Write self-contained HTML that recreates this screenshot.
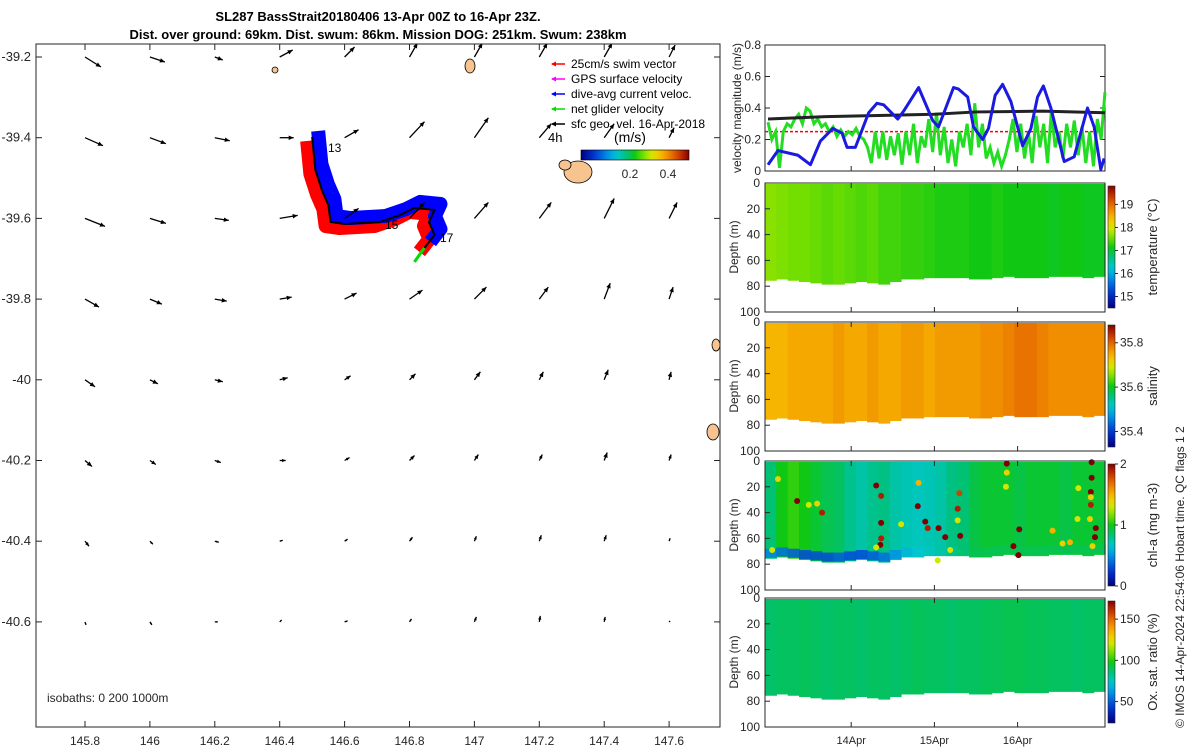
<!DOCTYPE html>
<html><head><meta charset="utf-8"><style>
body{margin:0;background:#fff;font-family:"Liberation Sans",sans-serif}
svg text{font-family:"Liberation Sans","DejaVu Sans",sans-serif;fill:#262626}
</style></head><body>
<svg id="fig" width="1200" height="750" viewBox="0 0 1200 750" xmlns="http://www.w3.org/2000/svg">
<rect width="1200" height="750" fill="#fff"/>
<text x="378" y="21" text-anchor="middle" font-size="13" font-weight="bold" style="fill:#000">SL287 BassStrait20180406 13-Apr 00Z to 16-Apr 23Z.</text>
<text x="378" y="39" text-anchor="middle" font-size="13" font-weight="bold" style="fill:#000">Dist. over ground: 69km. Dist. swum: 86km. Mission DOG: 251km. Swum: 238km</text>
<g id="map"></g>
<g id="vel"></g>
<g id="sec"></g>
<text transform="translate(1184,728) rotate(-90)" font-size="12">© IMOS 14-Apr-2024 22:54:06 Hobart time. QC flags 1  2</text>
</svg>
<script>
// ---------- data ----------
const lonTicks=[145.8,146,146.2,146.4,146.6,146.8,147,147.2,147.4,147.6];
const latTicks=[-39.2,-39.4,-39.6,-39.8,-40,-40.2,-40.4,-40.6];
const latTickLabels=["-39.2","-39.4","-39.6","-39.8","-40","-40.2","-40.4","-40.6"];
// surface geostrophic velocity (cm/s) east / north
const geoU=[[32,30,16,26,20,16,16,16,16,12],[36,32,30,28,28,30,28,24,20,10],[40,32,28,36,28,30,28,24,20,16],[28,24,24,24,24,26,24,18,12,8],[20,16,16,16,12,12,12,8,8,4],[14,12,12,12,10,10,8,6,6,4],[8,6,8,6,6,6,4,4,4,2],[2,4,6,4,6,4,4,2,2,2]];
const geoV=[[-20,-10,-6,14,20,28,28,28,28,24],[-16,-12,-6,0,16,32,40,28,28,20],[-16,-10,-4,6,20,32,32,32,40,32],[-16,-10,-4,4,12,18,24,24,32,24],[-14,-8,-4,4,8,12,16,16,20,16],[-12,-8,-4,0,6,10,12,12,16,12],[-10,-6,-2,2,4,8,10,12,12,6],[-6,-6,0,4,2,6,10,12,10,2]];
const trackLon=[146.50,146.51,146.53,146.55,146.557,146.60,146.708,146.77,146.815,146.877,146.86,146.877,146.846];
const trackLat=[-39.398,-39.48,-39.53,-39.567,-39.609,-39.614,-39.609,-39.592,-39.574,-39.579,-39.609,-39.641,-39.673];
const velTicks=[0,0.2,0.4,0.6,0.8];
const blueT=[0,0.12,0.36,0.51,0.63,0.78,0.89,0.95,1.05,1.21,1.31,1.39,1.56,1.63,1.81,1.98,2.05,2.23,2.29,2.40,2.47,2.58,2.65,2.73,2.82,2.92,3.06,3.16,3.24,3.31,3.40,3.56,3.68,3.84,3.92,4.00,4.04];
const blueV=[0.04,0.13,0.10,0.04,0.19,0.27,0.24,0.15,0.15,0.37,0.43,0.42,0.33,0.38,0.53,0.32,0.28,0.53,0.52,0.47,0.28,0.20,0.27,0.48,0.55,0.44,0.16,0.27,0.47,0.54,0.40,0.06,0.09,0.40,0.28,0.01,0.08];
const greenV=[0.31,0.2,0.25,0.02,0.25,0.3,0.28,0.33,0.36,0.3,0.4,0.38,0.3,0.33,0.28,0.3,0.25,0.28,0.22,0.26,0.22,0.25,0.23,0.27,0.22,0.2,0.15,0.05,0.25,0.08,0.25,0.07,0.22,0.1,0.24,0.04,0.25,0.1,0.3,0.05,0.22,0.15,0.33,0.12,0.37,0.1,0.28,0.05,0.2,0.03,0.25,0.15,0.3,0.1,0.43,0.15,0.3,0.08,0.15,0.05,0.12,0.03,0.1,0.2,0.33,0.12,0.3,0.08,0.25,0.05,0.35,0.15,0.3,0.05,0.38,0.15,0.25,0.08,0.3,0.15,0.32,0.1,0.28,0.05,0.25,0.03,0.33,0.2,0.5];
const blackT=[0,0.7,2.0,2.5,3.3,4.05];
const blackV=[0.33,0.345,0.36,0.375,0.38,0.37];
const swimV=0.25;
const dayTicks=["14Apr","15Apr","16Apr"];
const temps=[17.65,17.6,17.55,17.55,17.5,17.45,17.5,17.45,17.4,17.45,17.35,17.35,17.3,17.3,17.25,17.2,17.2,17.2,17.15,17.15,17.2,17.15,17.15,17.15,17.15,17.1,17.15,17.15,17.1,17.1];
const sals=[35.74,35.74,35.75,35.75,35.75,35.75,35.76,35.75,35.75,35.76,35.75,35.75,35.76,35.76,35.75,35.76,35.76,35.76,35.76,35.77,35.77,35.78,35.79,35.79,35.78,35.77,35.77,35.77,35.77,35.77];
const chls=[0.85,1.0,1.05,1.0,0.95,0.9,0.88,0.8,0.75,0.8,0.82,0.75,0.72,0.7,0.72,0.75,0.82,0.85,0.92,0.95,0.95,0.95,0.92,0.95,0.95,0.95,0.92,0.95,0.95,0.95];
const chlBottom=[0.45,0.4,0.35,0.3,0.3,0.3,0.35,0.3,0.3,0.35,0.4,0.5,0.6,0.65,0.7,0.75,0.8,0.85,0.9,0.9,0.9,0.9,0.9,0.9,0.9,0.9,0.9,0.9,0.9,0.9];
const oxs=[88,89,89,90,89,88,89,89,88,89,89,88,89,90,89,89,88,89,89,90,90,91,91,90,90,89,89,88,89,89];
const bottomDepth=[75,74,75,76,77,78,78,77,76,77,78,76,74,74,73,73,73,73,74,74,73,72,73,73,73,72,72,72,73,72];
const dotT=[0.35,0.65,0.12,1.30,1.36,1.36,1.36,1.35,1.80,1.89,1.92,2.05,2.13,2.31,2.28,2.30,2.87,3.02,2.95,3.01,3.89,3.89,3.88,3.88,3.94,3.93,1.81,1.6,2.28,2.19,2.04,2.87,2.86,3.42,3.54,3.63,3.72,3.88,3.87,3.90,3.73,1.30,0.05,0.59,0.49];
const dotD=[31,40,14,19,27,48,60,65,35,47,52,52,59,58,37,25,2,53,66,73,1,13,24,34,52,59,17,49,46,69,77,9,20,54,64,63,45,28,45,66,21,67,69,33,34];
const dotV=[2,1.9,1.4,2,1.9,2,1.9,2,2,2,1.9,2,2,2,1.9,1.8,2,2,2,2,2,2,2,1.9,2,2,1.5,1.3,1.3,1.3,1.3,1.4,1.3,1.5,1.4,1.5,1.3,1.4,1.4,1.4,1.3,1.3,1.3,1.4,1.3];

// ---------- helpers ----------
const NS="http://www.w3.org/2000/svg";
function mk(parent,tag,attrs,txt){const e=document.createElementNS(NS,tag);for(const k in attrs)e.setAttribute(k,attrs[k]);if(txt!==undefined)e.textContent=txt;parent.appendChild(e);return e;}
function cl(x){return Math.max(0,Math.min(1,x));}
const CM=[[0,[0,0,128]],[0.12,[0,50,210]],[0.24,[0,140,230]],[0.33,[0,200,210]],[0.42,[0,192,120]],[0.5,[16,200,20]],[0.58,[120,224,0]],[0.66,[220,232,0]],[0.73,[248,192,0]],[0.83,[236,120,0]],[0.92,[200,50,0]],[1,[128,0,0]]];
function jet(f){f=cl(f);for(let i=1;i<CM.length;i++){if(f<=CM[i][0]){const a=CM[i-1],b=CM[i],t=(f-a[0])/(b[0]-a[0]);return `rgb(${a[1].map((c,k)=>Math.round(c+(b[1][k]-c)*t)).join(',')})`;}}return 'rgb(128,0,0)';}
const defs=mk(document.getElementById('fig'),'defs',{});
const jg=mk(defs,'linearGradient',{id:'jetV',x1:0,y1:1,x2:0,y2:0});
const jh=mk(defs,'linearGradient',{id:'jetH',x1:0,y1:0,x2:1,y2:0});
for(let i=0;i<=20;i++){mk(jg,'stop',{offset:i/20,'stop-color':jet(i/20)});mk(jh,'stop',{offset:i/20,'stop-color':jet(i/20)});}
mk(mk(defs,'clipPath',{id:'mapclip'}),'rect',{x:36,y:44,width:684,height:683});

// ---------- map ----------
const map=document.getElementById('map');
const X0=36,X1=720,Y0=44,Y1=727;
const lx=lon=>85+(lon-145.8)/0.2*64.9;
const ly=lat=>57+(-39.2-lat)/0.2*80.7;
mk(map,'rect',{x:X0,y:Y0,width:X1-X0,height:Y1-Y0,fill:'#fff'});
const mc=mk(map,'g',{'clip-path':'url(#mapclip)'});
[[470,66,5,7],[578,172,14,11],[565,165,6,5],[716,345,4,6],[713,432,6,8],[275,70,3,3]].forEach((p,i)=>{
  const e=mk(mc,'ellipse',{cx:p[0],cy:p[1],rx:p[2],ry:p[3],fill:'#f7c48f',stroke:'#000','stroke-width':0.8});
  
  
});
const tp=trackLon.map((l,i)=>[lx(l),ly(trackLat[i])]);
const pstr=(dx,dy)=>tp.map(p=>(p[0]+dx)+','+(p[1]+dy)).join(' ');
const red=mk(mc,'polyline',{points:pstr(-5,4),fill:'none',stroke:'#f00','stroke-width':14,'stroke-linejoin':'round'});


const blue=mk(mc,'polyline',{points:pstr(6,-6),fill:'none',stroke:'#00f','stroke-width':14,'stroke-linejoin':'round'});


const trk=mk(mc,'polyline',{points:pstr(0,0),fill:'none',stroke:'#000','stroke-width':2});


const last=tp[tp.length-1];
const ga=mk(mc,'line',{x1:last[0],y1:last[1],x2:last[0]-10,y2:last[1]+14,stroke:'#0d0','stroke-width':3});


[["13",328,152],["15",385,229],["17",440,242]].forEach(d=>{const t=mk(mc,'text',{x:d[1],y:d[2],'font-size':12,style:'fill:#000'},d[0]);});
const sc=0.5;
latTicks.forEach((lat,r)=>lonTicks.forEach((lon,c)=>{
  const x=lx(lon),y=ly(lat),dx=geoU[r][c]*sc,dy=-geoV[r][c]*sc;
  const L=Math.hypot(dx,dy)||1,ux=dx/L,uy=dy/L;
  const g=mk(mc,'g',{});
  
  
  mk(g,'line',{x1:x,y1:y,x2:x+dx,y2:y+dy,stroke:'#000','stroke-width':1.3});
  const hx=x+dx,hy=y+dy,h=Math.min(5,L*0.6);
  mk(g,'polygon',{points:`${hx},${hy} ${hx-ux*h-uy*h*0.45},${hy-uy*h+ux*h*0.45} ${hx-ux*h+uy*h*0.45},${hy-uy*h-ux*h*0.45}`,fill:'#000'});
}));
mk(map,'rect',{x:X0,y:Y0,width:X1-X0,height:Y1-Y0,fill:'none',stroke:'#262626','stroke-width':1});
lonTicks.forEach(l=>{const x=lx(l);mk(map,'line',{x1:x,y1:Y1,x2:x,y2:Y1-6,stroke:'#262626'});mk(map,'line',{x1:x,y1:Y0,x2:x,y2:Y0+6,stroke:'#262626'});
 const t=mk(map,'text',{x:x,y:745,'text-anchor':'middle','font-size':12},String(l));});
latTicks.forEach((l,i)=>{const y=ly(l);mk(map,'line',{x1:X0,y1:y,x2:X0+6,y2:y,stroke:'#262626'});mk(map,'line',{x1:X1,y1:y,x2:X1-6,y2:y,stroke:'#262626'});
 const t=mk(map,'text',{x:31,y:y+4,'text-anchor':'end','font-size':13},latTickLabels[i]);});
mk(map,'text',{x:47,y:702,'font-size':12,},'isobaths: 0   200  1000m');
const leg=mk(map,'g',{});


[["#f00","25cm/s swim vector"],["#f0f","GPS surface velocity"],["#00f","dive-avg current veloc."],["#0d0","net glider velocity"],["#000","sfc geo. vel. 16-Apr-2018"]].forEach((d,i)=>{
  const y=64+i*15;
  const g=mk(leg,'g',{});
  
  
  mk(g,'line',{x1:552,y1:y,x2:565,y2:y,stroke:d[0],'stroke-width':1.5});
  mk(g,'polygon',{points:`${551},${y} ${556},${y-2.5} ${556},${y+2.5}`,fill:d[0]});
  mk(g,'text',{x:571,y:y+4,'font-size':12,style:'fill:#000'},d[1]);
});
mk(map,'text',{x:548,y:142,'font-size':13,style:'fill:#000'},'4h');
mk(map,'text',{x:614,y:142,'font-size':14,style:'fill:#000'},'(m/s)');
const mcb=mk(map,'rect',{x:581,y:150,width:108,height:10,fill:'url(#jetH)',stroke:'#000','stroke-width':0.6});


mk(map,'text',{x:630,y:178,'font-size':12,'text-anchor':'middle'},'0.2');
mk(map,'text',{x:668,y:178,'font-size':12,'text-anchor':'middle'},'0.4');

// ---------- velocity panel ----------
const vel=document.getElementById('vel');
const TX0=768,DAYPX=83.2,PX0=765,PX1=1105;
const tx=t=>TX0+t*DAYPX;
const vy=v=>171-v/0.8*126;
mk(vel,'rect',{x:PX0,y:45,width:PX1-PX0,height:126,fill:'#fff',stroke:'#262626'});
velTicks.forEach(v=>{mk(vel,'line',{x1:PX0,y1:vy(v),x2:PX0+5,y2:vy(v),stroke:'#262626'});mk(vel,'line',{x1:PX1,y1:vy(v),x2:PX1-5,y2:vy(v),stroke:'#262626'});
 const t=mk(vel,'text',{x:761,y:vy(v)+4,'text-anchor':'end','font-size':12},String(v));});
mk(vel,'text',{transform:'translate(741,108) rotate(-90)','text-anchor':'middle','font-size':12,},'velocity magnitude (m/s)');
const rl=mk(vel,'line',{x1:PX0,y1:vy(swimV),x2:PX1,y2:vy(swimV),stroke:'#f00','stroke-width':1.5,'stroke-dasharray':'3,2'});


const gp=mk(vel,'polyline',{points:greenV.map((v,i)=>tx(i*4.05/(greenV.length-1))+','+vy(v)).join(' '),fill:'none',stroke:'#22dd22','stroke-width':3});


const kp=mk(vel,'polyline',{points:blackV.map((v,i)=>tx(blackT[i])+','+vy(v)).join(' '),fill:'none',stroke:'#222','stroke-width':3});


const bp=mk(vel,'polyline',{points:blueV.map((v,i)=>tx(blueT[i])+','+vy(v)).join(' '),fill:'none',stroke:'#1a1ae0','stroke-width':3,'stroke-linejoin':'round'});



// ---------- sections ----------
const sec=document.getElementById('sec');
const panels=[
 {name:'temperature',top:183,vals:temps,min:14.5,max:19.8,ticks:[15,16,17,18,19],title:'temperature (°C)'},
 {name:'salinity',top:322,vals:sals,min:35.33,max:35.88,ticks:[35.4,35.6,35.8],title:'salinity'},
 {name:'chlorophyll',top:461,vals:chls,min:0,max:2,ticks:[0,1,2],title:'chl-a (mg m-3)'},
 {name:'oxygen',top:598,vals:oxs,min:24,max:172,ticks:[50,100,150],title:'Ox. sat. ratio (%)'}];
const depthTicks=[0,20,40,60,80,100];
panels.forEach((p,pi)=>{
  const H=129,dy=d=>p.top+d/100*H;
  const g=mk(sec,'g',{});
  
  
  const n=p.vals.length,w=(PX1-PX0)/n;
  p.vals.forEach((v,i)=>{
    const c=mk(g,'rect',{x:PX0+i*w,y:dy(0)+1,width:w+0.6,height:dy(bottomDepth[i])-dy(0),fill:jet((v-p.min)/(p.max-p.min))});
    
    
  });
  if(p.name==='chlorophyll'){
    chlBottom.forEach((v,i)=>{const c=mk(g,'rect',{x:PX0+i*w,y:dy(bottomDepth[i]-7),width:w+0.6,height:dy(bottomDepth[i])-dy(bottomDepth[i]-7),fill:jet(v/2),opacity:0.85});
      
      });
    dotT.forEach((t,i)=>{const d=mk(g,'circle',{cx:tx(t),cy:dy(dotD[i]),r:3,fill:jet(dotV[i]/2)});
      
      });
  }
  mk(g,'rect',{x:PX0,y:p.top,width:PX1-PX0,height:H,fill:'none',stroke:'#262626'});
  depthTicks.forEach(d=>{mk(g,'line',{x1:PX0,y1:dy(d),x2:PX0+5,y2:dy(d),stroke:'#262626'});
    const t=mk(g,'text',{x:760,y:dy(d)+4,'text-anchor':'end','font-size':12},String(d));});
  mk(g,'text',{transform:`translate(738,${p.top+64}) rotate(-90)`,'text-anchor':'middle','font-size':12},'Depth (m)');
  [1,2,3].forEach(k=>{mk(g,'line',{x1:tx(k),y1:p.top+H,x2:tx(k),y2:p.top+H-5,stroke:'#262626'});mk(g,'line',{x1:tx(k),y1:p.top,x2:tx(k),y2:p.top+5,stroke:'#262626'});});
  const cbTop=p.top+3,cbH=H-7;
  const cb=mk(g,'rect',{x:1108,y:cbTop,width:7,height:cbH,fill:'url(#jetV)',stroke:'#262626','stroke-width':0.6});
  
  
  p.ticks.forEach(t=>{const y=cbTop+cbH-(t-p.min)/(p.max-p.min)*cbH;mk(g,'line',{x1:1115,y1:y,x2:1118,y2:y,stroke:'#262626'});
    mk(g,'text',{x:1120,y:y+4,'font-size':12},String(t));});
  mk(g,'text',{transform:`translate(1157,${p.top+64}) rotate(-90)`,'text-anchor':'middle','font-size':13},p.title);
});
dayTicks.forEach((d,i)=>{const t=mk(sec,'text',{x:tx(i+1),y:744,'text-anchor':'middle','font-size':11},d);
  
  });
[1,2,3].forEach(k=>{mk(vel,'line',{x1:tx(k),y1:171,x2:tx(k),y2:166,stroke:'#262626'});});
</script>
</body></html>
